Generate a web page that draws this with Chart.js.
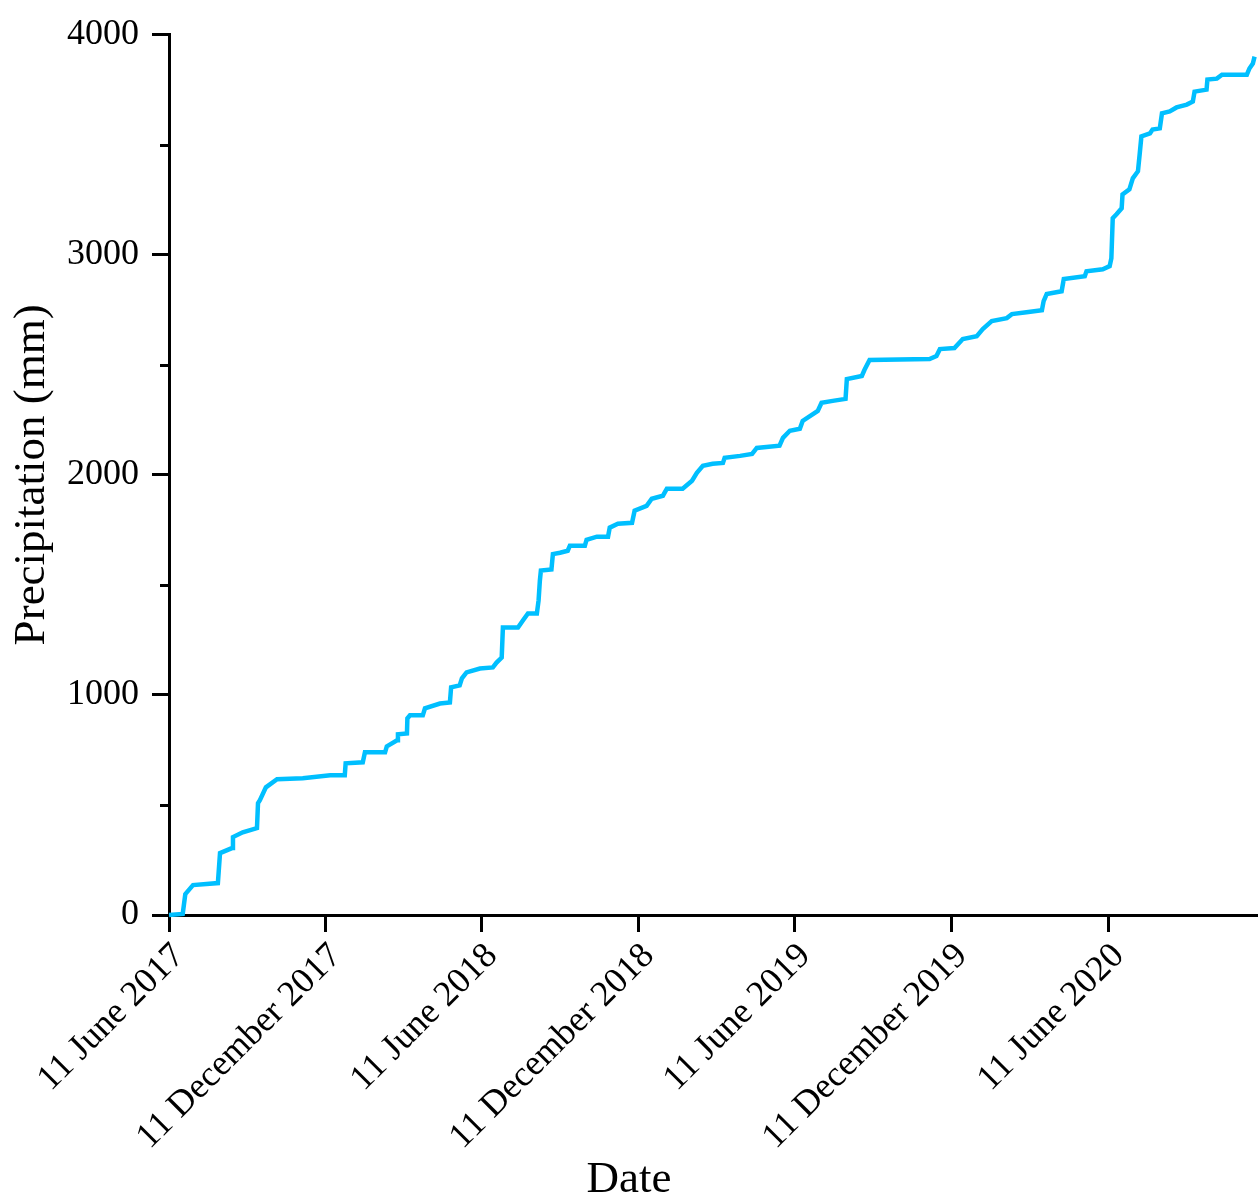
<!DOCTYPE html>
<html>
<head>
<meta charset="utf-8">
<script src="https://cdn.jsdelivr.net/npm/chart.js@4"></script>
<style>
  body { margin: 0; background: #fff; }
  canvas { display: block; }
</style>
</head>
<body>
<canvas id="grafico" width="1258" height="1198"></canvas>
<script>
// days counted from 11 June 2017
const days = [0, 16, 19, 28, 57, 59.5, 73.5, 74.6, 86, 102.6, 103.8, 106, 113, 126, 156, 188,
  205, 206, 226, 228.5, 252, 254, 266, 267, 277.5, 278, 281, 296, 298.5, 316, 327.6, 329,
  339, 341.6, 347, 362.6, 377.7, 382, 388, 389.4, 407, 412.7, 418.6, 429, 431, 432.5, 433.7,
  446, 447.7, 456, 465, 467.5, 485, 487, 499, 512, 514, 523.5, 540, 543, 557, 563, 576,
  580.6, 599, 610, 615.6, 622.6, 634, 646, 648, 666, 680, 685.5, 712, 716, 724, 735.7, 739,
  756.6, 761, 774, 789, 790.5, 808, 811, 817, 887, 895, 899, 916, 925.7, 942, 949, 959.5,
  977, 983, 1000, 1018, 1020, 1023.6, 1041, 1043.5, 1068, 1070, 1089, 1097, 1099, 1100.6,
  1105, 1111, 1112, 1120, 1124, 1130, 1132, 1134, 1144, 1147, 1155.5, 1158, 1167, 1175,
  1187, 1194, 1196, 1210, 1211, 1222, 1228, 1257, 1260, 1264, 1266];
const precip = [0, 5, 95, 136, 145, 281, 304, 354, 376, 395, 508, 522, 580, 617, 621, 635,
  635, 689, 694, 739, 739, 766, 794, 821, 825, 893, 907, 907, 939, 961, 966, 1034,
  1043, 1075, 1102, 1120, 1125, 1147, 1170, 1306, 1306, 1338, 1370, 1370, 1429, 1519, 1565,
  1570, 1640, 1646, 1655, 1678, 1678, 1705, 1719, 1719, 1760, 1778, 1782, 1837, 1859, 1891, 1905,
  1937, 1937, 1973, 2009, 2041, 2050, 2054, 2077, 2086, 2095, 2122, 2132, 2168, 2200, 2209, 2245,
  2290, 2327, 2336, 2345, 2435, 2449, 2476, 2522, 2526, 2540, 2571, 2576, 2617, 2630, 2662, 2698,
  2712, 2730, 2739, 2748, 2789, 2821, 2834, 2889, 2902, 2925, 2934, 2948, 2984, 3166,
  3184, 3211, 3274, 3297, 3347, 3379, 3456, 3537, 3551, 3569, 3574, 3642, 3651, 3669,
  3682, 3696, 3741, 3750, 3796, 3800, 3818, 3818, 3846, 3868, 3900];

const tickDays = [0, 183, 365, 548, 730, 913, 1096];
const tickLabels = ['11 June 2017', '11 December 2017', '11 June 2018', '11 December 2018',
  '11 June 2019', '11 December 2019', '11 June 2020'];
const minorTicksY = [500, 1500, 2500, 3500];

const fonte = 'Liberation Serif';
Chart.defaults.color = '#000';

// ticks menores do eixo Y (mais curtos)
const ticksMenores = {
    id: 'ticksMenores',
    afterDraw(chart) {
        const { ctx, scales: { y } } = chart;
        ctx.save();
        ctx.strokeStyle = '#000';
        ctx.lineWidth = 3;
        ctx.beginPath();
        minorTicksY.forEach(v => {
            const yPos = Math.round(y.getPixelForValue(v)) + 0.5;
            ctx.moveTo(y.right - 9, yPos);
            ctx.lineTo(y.right, yPos);
        });
        ctx.stroke();
        ctx.restore();
    }
};

const ctx = document.getElementById('grafico').getContext('2d');
new Chart(ctx, {
    type: 'line',
    data: {
        datasets: [{
            data: days.map((d, i) => ({ x: d, y: precip[i] })),
            borderColor: 'rgb(0,191,255)',
            borderWidth: 4.5,
            pointRadius: 0,
            tension: 0,
            fill: false,
            clip: 6
        }]
    },
    options: {
        responsive: false,
        animation: false,
        layout: { padding: { top: 33, right: 0, bottom: 0, left: 0 } },
        plugins: {
            legend: { display: false },
            tooltip: { enabled: false },
            title: {
                display: true,
                position: 'bottom',
                text: 'Date',
                color: '#000',
                font: { family: fonte, size: 45, weight: 'normal', lineHeight: 0.8 },
                padding: { top: 0, bottom: 0 }
            }
        },
        scales: {
            x: {
                type: 'linear',
                min: 0,
                max: 1270,
                afterBuildTicks: scale => {
                    scale.ticks = tickDays.map(v => ({ value: v }));
                },
                afterFit: scale => { scale.height = 247; },
                border: { display: true, color: '#000', width: 3 },
                grid: { drawOnChartArea: false, drawTicks: true, tickLength: 17, tickWidth: 3, tickColor: '#000' },
                ticks: {
                    autoSkip: false,
                    minRotation: 45,
                    maxRotation: 45,
                    padding: 3,
                    labelOffset: 10, // rotulos girados um pouco a direita do tick
                    color: '#000',
                    font: { family: fonte, size: 36 },
                    callback: (value, index) => tickLabels[index]
                }
            },
            y: {
                min: 0,
                max: 4000,
                afterFit: scale => { scale.width = 169; },
                border: { display: true, color: '#000', width: 3 },
                grid: { drawOnChartArea: false, drawTicks: true, tickLength: 17, tickWidth: 3, tickColor: '#000' },
                title: {
                    display: true,
                    text: 'Precipitation (mm)',
                    color: '#000',
                    font: { family: fonte, size: 45 },
                    padding: { top: 5, bottom: 0 }
                },
                ticks: {
                    stepSize: 1000,
                    padding: 13,
                    color: '#000',
                    font: { family: fonte, size: 36 },
                    callback: v => String(v)
                }
            }
        }
    },
    plugins: [ticksMenores]
});
</script>
</body>
</html>
